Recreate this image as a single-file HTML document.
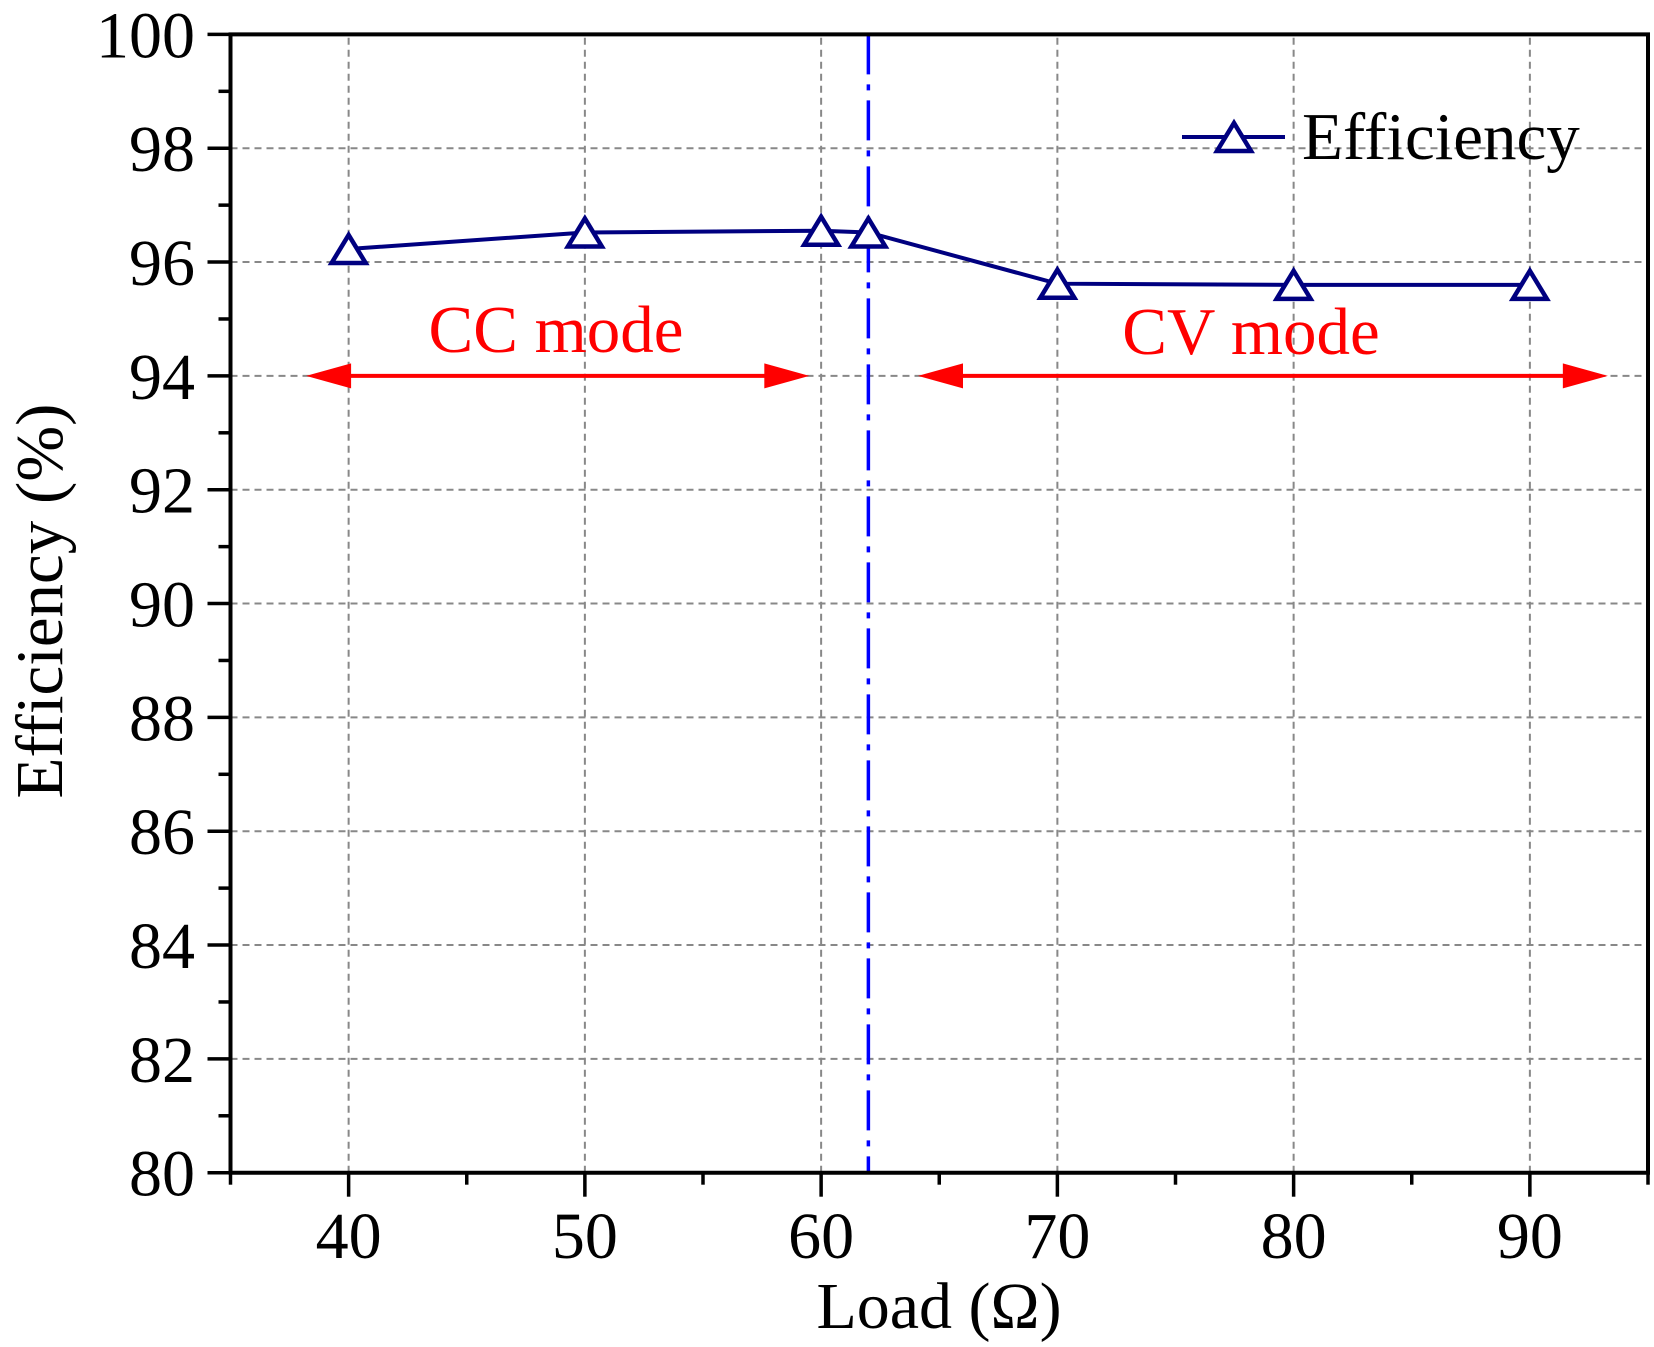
<!DOCTYPE html>
<html><head><meta charset="utf-8"><style>
html,body{margin:0;padding:0;background:#fff}
svg{display:block}
text{font-family:"Liberation Serif",serif}
</style></head><body>
<svg id="chart" width="1654" height="1347" viewBox="0 0 1654 1347" xmlns="http://www.w3.org/2000/svg">
<g id="grid"></g>
<g id="annot"></g>
<g id="series"></g>
<g id="axes"></g>
<text x="939" y="1328" font-size="66" text-anchor="middle">Load (Ω)</text>
<text transform="translate(62,601) rotate(-90)" font-size="67" text-anchor="middle">Efficiency (%)</text>
<g>
<line x1="1182" y1="137" x2="1285" y2="137" stroke="#000080" stroke-width="4"/>
<polygon points="1217,151 1251,151 1234,123" fill="#fff" stroke="#000080" stroke-width="4.5"/>
<text x="1302" y="159" font-size="67">Efficiency</text>
</g>
<text x="556" y="352" font-size="67" fill="#ff0000" text-anchor="middle">CC mode</text>
<text x="1251" y="354" font-size="67" fill="#ff0000" text-anchor="middle">CV mode</text>
</svg>
<script>
const loads = [40, 50, 60, 62, 70, 80, 90];
const efficiency = [96.23, 96.52, 96.55, 96.52, 95.62, 95.6, 95.6];
const xTicks = [40, 50, 60, 70, 80, 90];
const yTicks = [80, 82, 84, 86, 88, 90, 92, 94, 96, 98, 100];
const boundaryLoad = [62];
const ccRange = [38.2, 59.5];
const cvRange = [64.1, 93.3];
const arrowLevel = [94];

const X0=230.5, X1=1648, Y0=1172.7, Y1=34.4;
const xMin=35, xMax=95, yMin=80, yMax=100;
const sx = v => X0 + (v-xMin)/(xMax-xMin)*(X1-X0);
const sy = v => Y0 - (v-yMin)/(yMax-yMin)*(Y0-Y1);
const NS="http://www.w3.org/2000/svg";
function mk(tag, attrs, parent){const e=document.createElementNS(NS,tag);for(const k in attrs)e.setAttribute(k,attrs[k]);parent.appendChild(e);return e;}
const grid=document.getElementById('grid'), axes=document.getElementById('axes'), series=document.getElementById('series'), annot=document.getElementById('annot');

xTicks.forEach(v=>{
  const l=mk('line',{x1:sx(v),x2:sx(v),y1:Y0,y2:Y1,stroke:'#888','stroke-width':2,'stroke-dasharray':'7,5'},grid);
  
  
});
yTicks.forEach(v=>{
  if(v===yMin||v===yMax) return;
  const l=mk('line',{x1:X0,x2:X1,y1:sy(v),y2:sy(v),stroke:'#888','stroke-width':2,'stroke-dasharray':'7,5'},grid);
  
  
});

const ax=mk('path',{d:`M${X0},${Y1} V${Y0} H${X1} V${Y1} Z`,fill:'none',stroke:'#000','stroke-width':4},axes);


for(let v=xMin; v<=xMax; v+=5){
  const major = v%10===0;
  const t=mk('line',{x1:sx(v),x2:sx(v),y1:Y0,y2:Y0+(major?24:12),stroke:'#000','stroke-width':3.5},axes);
  
  
}
xTicks.forEach(v=>{
  const t=mk('text',{x:sx(v),y:1258,'font-size':66,'text-anchor':'middle'},axes);
  t.textContent=v;
  
  
});
for(let v=yMin; v<=yMax; v+=1){
  const major = v%2===0;
  const t=mk('line',{x1:X0-(major?23:12),x2:X0,y1:sy(v),y2:sy(v),stroke:'#000','stroke-width':3.5},axes);
  
  
}
yTicks.forEach(v=>{
  const t=mk('text',{x:195,y:sy(v)+23,'font-size':66,'text-anchor':'end'},axes);
  t.textContent=v;
  
  
});

boundaryLoad.forEach(v=>{
  const b=mk('line',{x1:sx(v),x2:sx(v),y1:Y1,y2:Y0,stroke:'#0000ff','stroke-width':3.5,'stroke-dasharray':'40,10,6,10'},annot);
  
  
});
function arrow(r,name){
  const y=sy(arrowLevel[0]), a=sx(r[0]), b=sx(r[1]);
  const g=mk('g',{},annot);
  
  
  mk('line',{x1:a+40,x2:b-40,y1:y,y2:y,stroke:'#ff0000','stroke-width':4},g);
  mk('polygon',{points:`${a},${y} ${a+45},${y-12.5} ${a+45},${y+12.5}`,fill:'#ff0000'},g);
  mk('polygon',{points:`${b},${y} ${b-45},${y-12.5} ${b-45},${y+12.5}`,fill:'#ff0000'},g);
}
arrow(ccRange,'cc-mode-arrow');
arrow(cvRange,'cv-mode-arrow');

const pts=loads.map((v,i)=>`${sx(v)},${sy(efficiency[i])}`).join(' ');
const pl=mk('polyline',{points:pts,fill:'none',stroke:'#000080','stroke-width':4},series);


loads.forEach((v,i)=>{
  const cx=sx(v), cy=sy(efficiency[i]);
  const m=mk('polygon',{points:`${cx-17},${cy+14} ${cx+17},${cy+14} ${cx},${cy-14}`,fill:'#fff',stroke:'#000080','stroke-width':4.5},series);
  
  
});
</script>
</body></html>
